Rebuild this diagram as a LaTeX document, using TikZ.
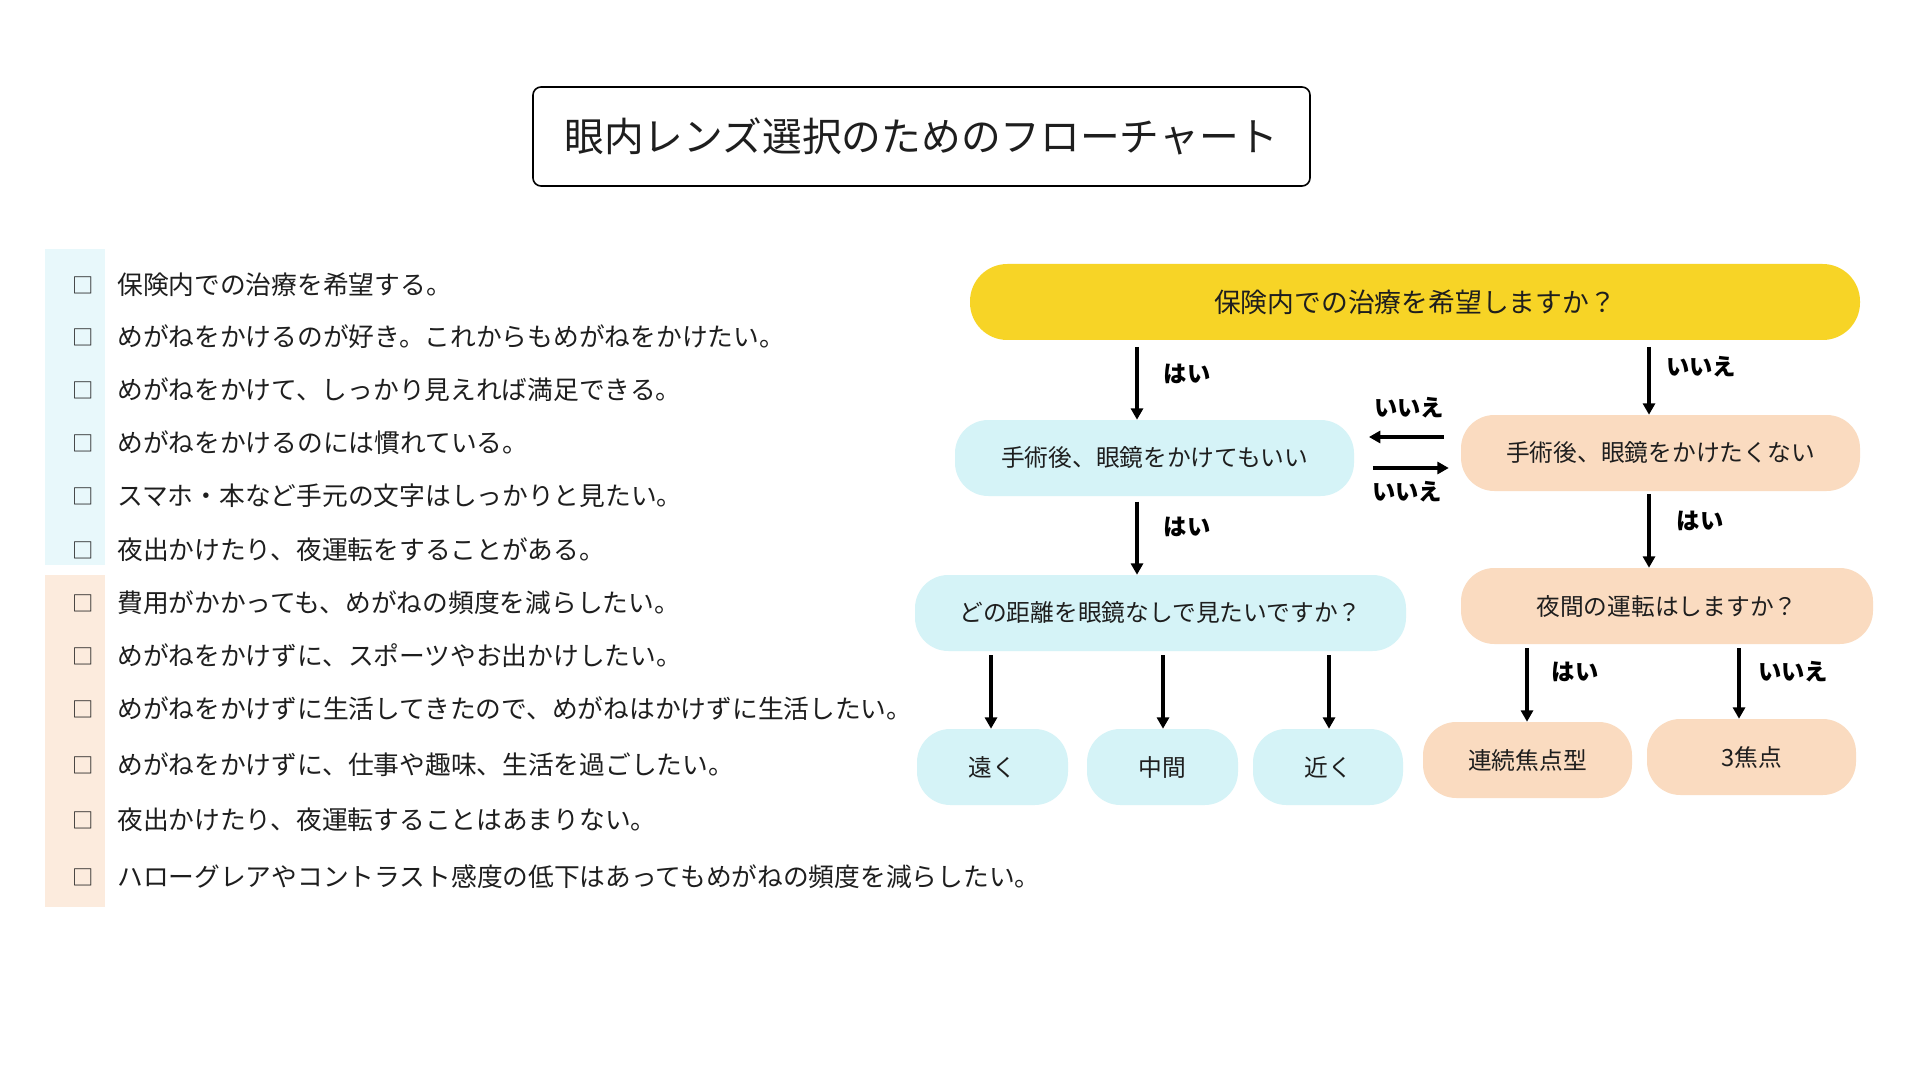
\documentclass[tikz,border=0pt]{standalone}
\usepackage{fontspec}
\setmainfont{Noto Sans CJK JP}
\usetikzlibrary{arrows.meta}
\definecolor{yel}{HTML}{F7D426}
\definecolor{nblue}{HTML}{D5F3F7}
\definecolor{npeach}{HTML}{FADBC0}
\definecolor{sblue}{HTML}{E8F8FB}
\definecolor{speach}{HTML}{FCEBDD}
\definecolor{txt}{HTML}{1E1E1E}
\tikzset{
  flownode/.style={rectangle, rounded corners=25pt, minimum height=57pt, inner sep=0pt, text=txt,
    font=\fontsize{17.8pt}{20pt}\selectfont},
  item/.style={anchor=west, inner sep=0pt, text=txt, font=\fontsize{19.3pt}{22pt}\selectfont},
  chk/.style={inner sep=0pt, text=txt, font=\fontsize{16pt}{18pt}\selectfont},
  arr/.style={line width=2.3pt, -{Triangle[width=9pt,length=8.5pt]}},
  lbl/.style={inner sep=0pt, font=\bfseries\fontsize{17.5pt}{20pt}\selectfont}
}
\begin{document}
\begin{tikzpicture}[x=0.75pt,y=-0.75pt]
\useasboundingbox (0,0) rectangle (1920,1080);
\fill[white] (0,0) rectangle (1920,1080);

% title
\node[draw=black, line width=1.2pt, rounded corners=6pt, minimum width=582.75pt, minimum height=74.25pt,
  font=\fontsize{29.8pt}{34pt}\selectfont, text=txt] (title) at (921.5,136.5) {眼内レンズ選択のためのフローチャート};

% left strips
\fill[sblue] (45,249) rectangle (105,565);
\fill[speach] (45,575) rectangle (105,907);

% checklist
\node[chk] (c1) at (83,285) {□};
\node[item] (t1) at (117,285) {保険内での治療を希望する。};
\node[chk] (c2) at (83,337) {□};
\node[item] (t2) at (117,337) {めがねをかけるのが好き。これからもめがねをかけたい。};
\node[chk] (c3) at (83,390) {□};
\node[item] (t3) at (117,390) {めがねをかけて、しっかり見えれば満足できる。};
\node[chk] (c4) at (83,443) {□};
\node[item] (t4) at (117,443) {めがねをかけるのには慣れている。};
\node[chk] (c5) at (83,496) {□};
\node[item] (t5) at (117,496) {スマホ・本など手元の文字はしっかりと見たい。};
\node[chk] (c6) at (83,550) {□};
\node[item] (t6) at (117,550) {夜出かけたり、夜運転をすることがある。};
\node[chk] (c7) at (83,603) {□};
\node[item] (t7) at (117,603) {費用がかかっても、めがねの頻度を減らしたい。};
\node[chk] (c8) at (83,656) {□};
\node[item] (t8) at (117,656) {めがねをかけずに、スポーツやお出かけしたい。};
\node[chk] (c9) at (83,709) {□};
\node[item] (t9) at (117,709) {めがねをかけずに生活してきたので、めがねはかけずに生活したい。};
\node[chk] (c10) at (83,765) {□};
\node[item] (t10) at (117,765) {めがねをかけずに、仕事や趣味、生活を過ごしたい。};
\node[chk] (c11) at (83,820) {□};
\node[item] (t11) at (117,820) {夜出かけたり、夜運転することはあまりない。};
\node[chk] (c12) at (83,877) {□};
\node[item] (t12) at (117,877) {ハローグレアやコントラスト感度の低下はあってもめがねの頻度を減らしたい。};

% flow nodes
\node[flownode, fill=yel, rounded corners=28pt, minimum width=667.5pt, font=\fontsize{20.1pt}{23pt}\selectfont] (q1) at (1415,302) {保険内での治療を希望しますか？};
\node[flownode, fill=nblue, minimum width=299.25pt] (ok) at (1154.5,458) {手術後、眼鏡をかけてもいい};
\node[flownode, fill=npeach, minimum width=299.25pt] (ng) at (1660.5,453) {手術後、眼鏡をかけたくない};
\node[flownode, fill=nblue, minimum width=368.25pt] (dist) at (1160.5,613) {どの距離を眼鏡なしで見たいですか？};
\node[flownode, fill=npeach, minimum width=309pt] (night) at (1667,606) {夜間の運転はしますか？};
\node[flownode, fill=nblue, minimum width=113.25pt] (far) at (992.5,767) {遠く};
\node[flownode, fill=nblue, minimum width=113.25pt] (mid) at (1162.5,767) {中間};
\node[flownode, fill=nblue, minimum width=112.5pt] (near) at (1328,767) {近く};
\node[flownode, fill=npeach, minimum width=156.75pt] (cont) at (1527.5,760) {連続焦点型};
\node[flownode, fill=npeach, minimum width=156.75pt] (tri) at (1751.5,757) {3焦点};

% arrow x positions
\coordinate (xa) at (1137,0);
\coordinate (xb) at (1649,0);
\coordinate (xf) at (991,0);
\coordinate (xm) at (1163,0);
\coordinate (xn) at (1329,0);
\coordinate (xc) at (1527,0);
\coordinate (xt) at (1739,0);
\coordinate (yl) at (0,437);
\coordinate (yr) at (0,468);

\draw[arr, shorten <=5pt] (q1.south -| xa) -- (ok.north -| xa);
\draw[arr, shorten <=5pt] (q1.south -| xb) -- (ng.north -| xb);
\draw[arr, shorten <=4pt] (ok.south -| xa) -- (dist.north -| xa);
\draw[arr, shorten <=2pt] (ng.south -| xb) -- (night.north -| xb);
\draw[arr, shorten <=12.75pt, shorten >=11pt] (ng.west |- yl) -- (ok.east |- yl);
\draw[arr, shorten <=14pt, shorten >=9pt] (ok.east |- yr) -- (ng.west |- yr);
\draw[arr, shorten <=3pt] (dist.south -| xf) -- (far.north -| xf);
\draw[arr, shorten <=3pt] (dist.south -| xm) -- (mid.north -| xm);
\draw[arr, shorten <=3pt] (dist.south -| xn) -- (near.north -| xn);
\draw[arr, shorten <=3pt] (night.south -| xc) -- (cont.north -| xc);
\draw[arr, shorten <=3pt] (night.south -| xt) -- (tri.north -| xt);

% labels
\node[lbl] (l1) at (1187,374) {はい};
\node[lbl] (l2) at (1701,367) {いいえ};
\node[lbl] (l3) at (1409,408) {いいえ};
\node[lbl] (l4) at (1407,492) {いいえ};
\node[lbl] (l5) at (1187,527) {はい};
\node[lbl] (l6) at (1700,521) {はい};
\node[lbl] (l7) at (1575,672) {はい};
\node[lbl] (l8) at (1793,672) {いいえ};
\end{tikzpicture}
\end{document}
